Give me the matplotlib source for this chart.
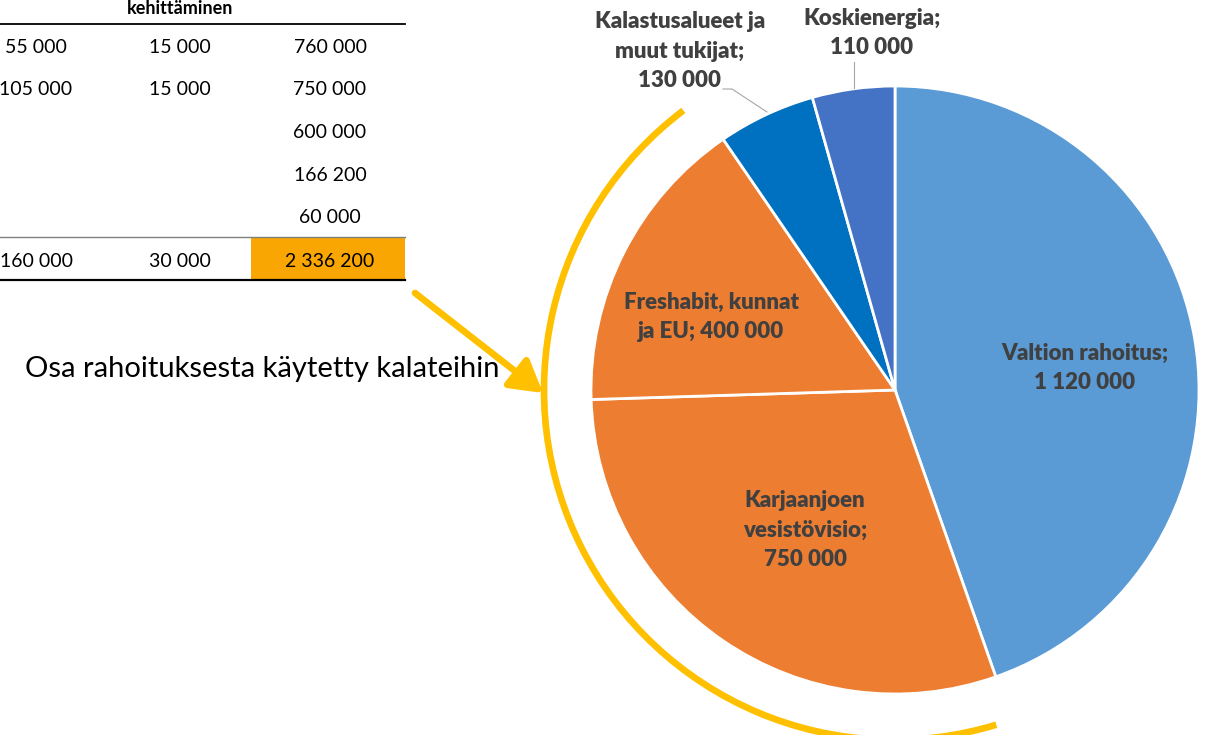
import matplotlib
matplotlib.use("Agg")
import matplotlib.pyplot as plt
from matplotlib.patches import Arc, FancyArrowPatch, Rectangle

plt.rcParams['font.family'] = ['Lato', 'DejaVu Sans']

# ---- data ----
slice_names = ["Valtion rahoitus", "Karjaanjoen vesistövisio", "Freshabit, kunnat ja EU",
               "Kalastusalueet ja muut tukijat", "Koskienergia"]
slice_values = [1120000, 750000, 400000, 130000, 110000]
slice_labels = ["Valtion rahoitus;\n1 120 000", "Karjaanjoen\nvesistövisio;\n750 000",
                "Freshabit, kunnat\nja EU; 400 000", "Kalastusalueet ja\nmuut tukijat;\n130 000",
                "Koskienergia;\n110 000"]
slice_colors = ["#5B9BD5", "#ED7D31", "#ED7D31", "#0070C0", "#4472C4"]

table_header = "kehittäminen"
table_col1 = ["55 000", "105 000", "", "", ""]
table_col2 = ["15 000", "15 000", "", "", ""]
table_col3 = ["760 000", "750 000", "600 000", "166 200", "60 000"]
table_totals = ["160 000", "30 000", "2 336 200"]
note_text = "Osa rahoituksesta käytetty kalateihin"

W, H = 1207, 735
fig = plt.figure(figsize=(W / 100, H / 100), dpi=100)

# ---- pie ----
cx, cy, R = 895, 390, 304
pax = fig.add_axes([(cx - R) / W, (H - cy - R) / H, 2 * R / W, 2 * R / H])
pax.pie(slice_values, colors=slice_colors, startangle=90, counterclock=False,
        wedgeprops=dict(edgecolor="white", linewidth=2))
pax.set_xlim(-1, 1)
pax.set_ylim(-1, 1)
pax.set_aspect("equal")
pax.axis("off")
pax.set_zorder(1)

# overlay axes in pixel coordinates (drawn above the pie)
ov = fig.add_axes([0, 0, 1, 1])
ov.set_xlim(0, W)
ov.set_ylim(H, 0)
ov.axis("off")
ov.patch.set_alpha(0)
ov.set_zorder(2)

lab_kw = dict(fontsize=16, fontweight="heavy", color="#404040", ha="center", va="center",
              linespacing=1.5)
label_pos = [(1085, 368), (805, 530), (711, 317), (680, 51), (872, 33)]
for txt, (x, y) in zip(slice_labels, label_pos):
    ov.text(x, y, txt, **lab_kw)

# leader lines
ov.plot([723, 732, 767], [89, 89, 112], color="#A6A6A6", lw=0.8)
ov.plot([854, 854], [62, 88], color="#A6A6A6", lw=0.8)

# ---- yellow arc ----
arc = Arc((894, 390), 2 * 350, 2 * 350, angle=0, theta1=-287, theta2=-127,
          color="#FFC000", lw=4.8)
ov.add_patch(arc)

# arrow
ov.add_patch(FancyArrowPatch((415, 293), (543, 393), arrowstyle="-|>,head_length=12,head_width=7",
                             mutation_scale=1.6, color="#FFC000", lw=4.8, shrinkA=0, shrinkB=0))
ov.text(25, 369, note_text, fontsize=21, color="black", ha="left", va="center")

# ---- partial table ----
ov.text(180, 0, table_header, fontsize=13, fontweight="bold", ha="center", va="top")
ov.plot([0, 405], [24, 24], color="black", lw=1.3)
row_y = [47, 89, 132, 175, 217]
col_x = [36, 180, 330]
for i, y in enumerate(row_y):
    for cx_, col in zip(col_x, [table_col1, table_col2, table_col3]):
        if col[i]:
            ov.text(cx_, y, col[i], fontsize=14, ha="center", va="center")
ov.add_patch(Rectangle((251, 237), 154, 42, facecolor="#F9A602", edgecolor="none"))
ov.plot([0, 405], [237, 237], color="#808080", lw=1.0)
ov.plot([0, 405], [279.5, 279.5], color="black", lw=1.6)
for cx_, t in zip(col_x, table_totals):
    ov.text(cx_, 261, t, fontsize=14, ha="center", va="center")

fig.savefig("out.png", dpi=100)
